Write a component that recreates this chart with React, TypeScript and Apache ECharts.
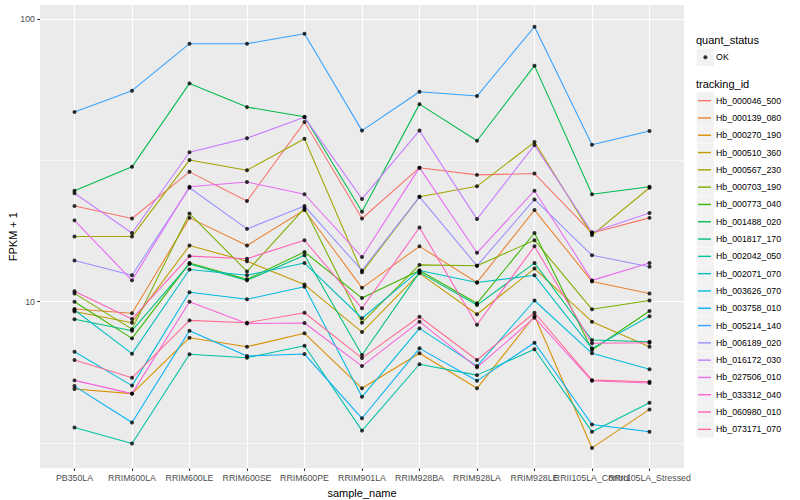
import React, { useEffect, useRef } from "react";
import * as echarts from "echarts";

const categories = [
  "PB350LA", "RRIM600LA", "RRIM600LE", "RRIM600SE", "RRIM600PE", "RRIM901LA",
  "RRIM928BA", "RRIM928LA", "RRIM928LE", "RRII105LA_Control", "RRII105LA_Stressed",
];

const trackingIds = [
  "Hb_000046_500", "Hb_000139_080", "Hb_000270_190", "Hb_000510_360", "Hb_000567_230",
  "Hb_000703_190", "Hb_000773_040", "Hb_001488_020", "Hb_001817_170", "Hb_002042_050",
  "Hb_002071_070", "Hb_003626_070", "Hb_003758_010", "Hb_005214_140", "Hb_006189_020",
  "Hb_016172_030", "Hb_027506_010", "Hb_033312_040", "Hb_060980_010", "Hb_073171_070",
];

const trackingColors = [
  "#F8766D", "#EA8331", "#D89000", "#C09B00", "#A3A500", "#7CAE00", "#39B600", "#00BB4E",
  "#00BF7D", "#00C1A3", "#00BFC4", "#00BAE0", "#00B0F6", "#35A2FF", "#9590FF", "#C77CFF",
  "#E76BF3", "#FA62DB", "#FF62BC", "#FF6C91",
];

const hb_000046_500 = [21.8, 19.7, 28.8, 22.7, 43.2, 19.7, 29.8, 28.1, 28.4, 17.5, 19.8];
const hb_000139_080 = [9.42, 9.1, 19.8, 15.8, 21.1, 11.2, 15.7, 11.7, 21.1, 11.8, 10.7];
const hb_000270_190 = [4.91, 4.73, 7.46, 6.93, 7.73, 4.94, 6.57, 4.94, 8.9, 3.04, 4.16];
const hb_000510_360 = [9.23, 8.43, 15.8, 13.9, 11.5, 7.81, 12.6, 9.03, 13.1, 8.5, 6.93];
const hb_000567_230 = [17.0, 17.0, 31.7, 29.2, 37.7, 12.7, 23.5, 25.6, 36.7, 17.2, 25.3];
const hb_000703_190 = [10.7, 8.0, 20.5, 12.8, 21.4, 8.43, 13.5, 13.4, 16.5, 9.4, 10.1];
const hb_000773_040 = [10.0, 7.42, 13.7, 12.0, 15.0, 10.3, 12.9, 9.87, 17.5, 6.75, 9.27];
const hb_001488_020 = [24.7, 30.0, 59.2, 48.8, 45.1, 20.8, 50.0, 37.1, 68.4, 24.0, 25.5];
const hb_001817_170 = [8.67, 7.9, 13.6, 11.9, 14.6, 6.48, 12.7, 9.73, 13.7, 7.32, 7.22];
const hb_002042_050 = [3.59, 3.15, 6.52, 6.34, 6.99, 3.5, 6.01, 5.5, 6.79, 3.47, 4.39];
const hb_002071_070 = [9.35, 6.55, 13.0, 12.4, 13.7, 8.74, 12.9, 11.7, 12.4, 6.84, 8.88];
const hb_003626_070 = [6.65, 5.05, 10.8, 10.2, 11.3, 4.61, 8.05, 5.92, 10.1, 6.57, 5.77];
const hb_003758_010 = [5.03, 3.74, 7.9, 6.43, 6.53, 3.87, 6.84, 5.25, 7.16, 3.68, 3.47];
const hb_005214_140 = [46.9, 55.8, 81.8, 81.8, 88.7, 40.3, 55.3, 53.4, 93.9, 35.9, 40.2];
const hb_006189_020 = [14.0, 12.4, 25.3, 18.1, 21.8, 12.9, 23.5, 13.4, 23.0, 14.6, 13.3];
const hb_016172_030 = [24.2, 17.5, 33.8, 37.9, 44.9, 23.1, 40.3, 19.6, 35.8, 17.6, 20.6];
const hb_027506_010 = [19.4, 11.9, 25.5, 26.5, 24.0, 14.4, 29.8, 14.9, 24.7, 11.9, 13.7];
const hb_033312_040 = [5.27, 4.73, 10.0, 8.37, 8.41, 5.92, 8.5, 5.86, 8.78, 5.25, 5.16];
const hb_060980_010 = [10.9, 8.69, 14.5, 14.2, 16.5, 9.48, 18.3, 8.29, 15.7, 7.13, 7.16];
const hb_073171_070 = [6.22, 5.38, 8.59, 8.43, 9.14, 6.32, 8.85, 6.22, 9.14, 5.28, 5.21];

const seriesValues = [
  hb_000046_500, hb_000139_080, hb_000270_190, hb_000510_360, hb_000567_230,
  hb_000703_190, hb_000773_040, hb_001488_020, hb_001817_170, hb_002042_050,
  hb_002071_070, hb_003626_070, hb_003758_010, hb_005214_140, hb_006189_020,
  hb_016172_030, hb_027506_010, hb_033312_040, hb_060980_010, hb_073171_070,
];

const quantStatus = ["OK"];
const yRange = [2.575, 112.1];
const majorRange = [1, 100];
const majorLabels = [10, 100];
const minorBreaks = [3.1623, 31.623];

export default function App() {
  const ref = useRef<HTMLDivElement>(null);

  useEffect(() => {
    if (!ref.current) return;
    const chart = echarts.init(ref.current, null, { renderer: "svg" });
    const font = "Liberation Sans, Arial, Helvetica, sans-serif";

    const panel = { left: 40, top: 5, width: 644, height: 463.3 };
    const decade = panel.height / (Math.log10(yRange[1]) - Math.log10(yRange[0]));
    const majorTop = panel.top + decade * (Math.log10(yRange[1]) - Math.log10(majorRange[1]));
    const majorHeight = decade * (Math.log10(majorRange[1]) - Math.log10(majorRange[0]));
    const spacing = panel.width / (categories.length + 0.2);
    const dataLeft = panel.left + 0.1 * spacing;
    const dataWidth = spacing * categories.length;

    const keySize = 17.3;
    const legendLeft = 696.7;
    const okTop = 48.6;
    const trackTop = 92;

    const lineSeries = trackingIds.map((id, i) => ({
      type: "line",
      name: id,
      xAxisIndex: 2,
      yAxisIndex: 2,
      data: seriesValues[i],
      symbol: "none",
      showSymbol: false,
      lineStyle: { color: trackingColors[i], width: 1.07 },
      itemStyle: { color: trackingColors[i] },
      z: 2,
      silent: true,
    }));

    const points: number[][] = [];
    seriesValues.forEach((vals) => vals.forEach((v, j) => points.push([j, v])));

    const keyRects: any[] = [];
    keyRects.push({
      type: "rect",
      z: 1,
      shape: { x: legendLeft, y: okTop, width: keySize, height: keySize },
      style: { fill: "#F2F2F2" },
    });
    trackingIds.forEach((_, i) => {
      keyRects.push({
        type: "rect",
        z: 1,
        shape: { x: legendLeft, y: trackTop + keySize * i, width: keySize, height: keySize - 0.4 },
        style: { fill: "#F2F2F2" },
      });
    });

    const option: any = {
      animation: false,
      backgroundColor: "#FFFFFF",
      textStyle: { fontFamily: font },
      grid: [
        { ...panel, show: true, backgroundColor: "#EBEBEB", borderWidth: 0, outerBoundsMode: "none", containLabel: false },
        { left: panel.left, width: panel.width, top: majorTop, height: majorHeight, outerBoundsMode: "none", containLabel: false },
        { left: dataLeft, width: dataWidth, top: panel.top, height: panel.height, outerBoundsMode: "none", containLabel: false },
      ],
      xAxis: [
        { gridIndex: 0, type: "value", show: false, min: 0, max: 1 },
        { gridIndex: 1, type: "value", show: false, min: 0, max: 1 },
        {
          gridIndex: 2,
          type: "category",
          data: categories,
          boundaryGap: true,
          axisLine: { show: false },
          axisTick: { show: true, alignWithLabel: true, length: 2.75, lineStyle: { color: "#333333", width: 1.07 } },
          axisLabel: { interval: 0, color: "#4D4D4D", fontSize: 8.8, fontFamily: font, margin: 5, hideOverlap: false },
          splitLine: { show: false },
          name: "sample_name",
          nameLocation: "middle",
          nameGap: 14,
          nameTextStyle: { fontSize: 11, color: "#000000", fontFamily: font },
        },
      ],
      yAxis: [
        {
          gridIndex: 0,
          type: "value",
          min: 0,
          max: 1,
          axisLine: { show: false },
          axisTick: { show: false },
          axisLabel: { show: false },
          splitLine: { show: false },
          name: "FPKM + 1",
          nameLocation: "middle",
          nameGap: 22,
          nameTextStyle: { fontSize: 11, color: "#000000", fontFamily: font },
        },
        {
          gridIndex: 1,
          type: "log",
          logBase: 10,
          min: majorRange[0],
          max: majorRange[1],
          axisLine: { show: false },
          axisTick: { show: true, length: 2.75, lineStyle: { color: "#333333", width: 1.07 } },
          axisLabel: {
            color: "#4D4D4D",
            fontSize: 8.8,
            fontFamily: font,
            margin: 5,
            showMinLabel: false,
            formatter: (v: number) => (majorLabels.some((m) => Math.abs(m - v) < 1e-6) ? String(v) : ""),
          },
          splitLine: { show: true, lineStyle: { color: "#FFFFFF", width: 1.1 } },
        },
        { gridIndex: 2, type: "log", logBase: 10, min: yRange[0], max: yRange[1], show: false },
      ],
      legend: [
        {
          orient: "vertical",
          left: legendLeft + keySize / 2 - 2,
          top: okTop,
          padding: 0,
          itemGap: 0,
          itemWidth: 4,
          itemHeight: 4,
          selectedMode: false,
          data: quantStatus.map((s) => ({ name: s, icon: "circle", itemStyle: { color: "#000000" } })),
          textStyle: { fontSize: 8.8, color: "#000000", fontFamily: font, lineHeight: keySize, padding: [0, 0, 0, 3.7] },
        },
        {
          orient: "vertical",
          left: legendLeft + 1.3,
          top: trackTop,
          padding: 0,
          itemGap: 0,
          itemWidth: 13,
          itemHeight: 1.4,
          selectedMode: false,
          data: trackingIds.map((id, i) => ({ name: id, icon: "rect", itemStyle: { color: trackingColors[i] } })),
          textStyle: { fontSize: 8.8, color: "#000000", fontFamily: font, lineHeight: keySize },
        },
      ],
      graphic: [
        ...keyRects,
        {
          type: "text",
          z: 1,
          x: 696,
          y: 39.5,
          style: { text: "quant_status", fill: "#000000", fontSize: 11, fontFamily: font, verticalAlign: "middle", align: "left" },
        },
        {
          type: "text",
          z: 1,
          x: 696,
          y: 84,
          style: { text: "tracking_id", fill: "#000000", fontSize: 11, fontFamily: font, verticalAlign: "middle", align: "left" },
        },
      ],
      series: [
        {
          type: "line",
          name: "__minor",
          xAxisIndex: 1,
          yAxisIndex: 1,
          data: [[0.5, 10]],
          symbol: "none",
          showSymbol: false,
          lineStyle: { width: 0 },
          silent: true,
          markLine: {
            silent: true,
            z: 1,
            symbol: "none",
            label: { show: false },
            lineStyle: { color: "#FFFFFF", width: 0.55, type: "solid" },
            data: minorBreaks.map((v) => ({ yAxis: v })),
          },
        },
        ...lineSeries,
        {
          type: "scatter",
          name: quantStatus[0],
          xAxisIndex: 2,
          yAxisIndex: 2,
          data: points,
          symbol: "circle",
          symbolSize: 4,
          itemStyle: { color: "#000000" },
          z: 3,
          silent: true,
          markLine: {
            silent: true,
            z: 1,
            symbol: "none",
            label: { show: false },
            lineStyle: { color: "#FFFFFF", width: 1.1, type: "solid" },
            data: categories.map((c) => ({ xAxis: c })),
          },
        },
      ],
    };

    chart.setOption(option);
    return () => chart.dispose();
  }, []);

  return (
    <div
      ref={ref}
      style={{ position: "absolute", left: 0, top: 0, width: 800, height: 500 }}
    />
  );
}
